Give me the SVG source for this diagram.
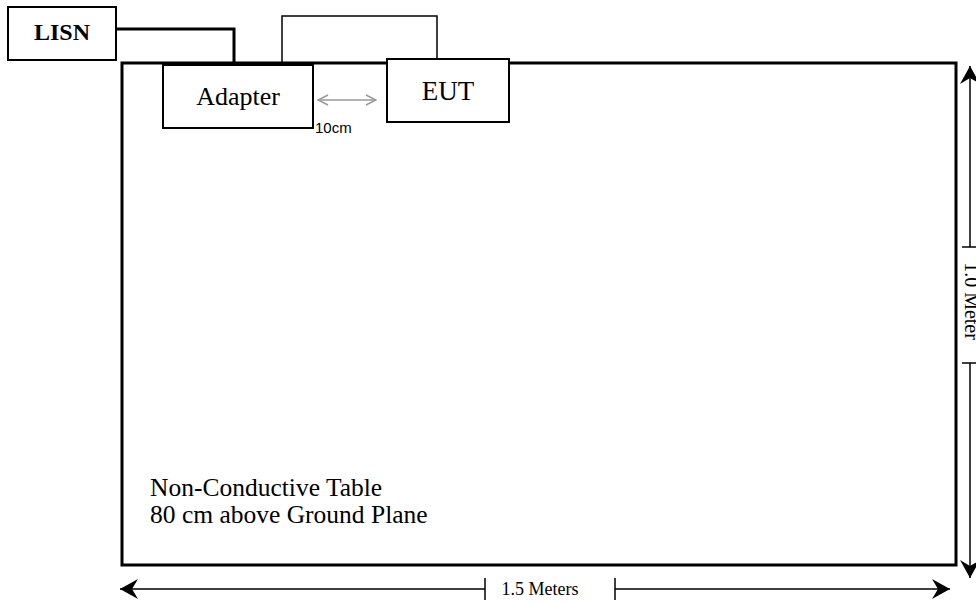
<svg xmlns="http://www.w3.org/2000/svg" width="976" height="603" viewBox="0 0 976 603">
<defs>
<style>
.box{fill:#fff;stroke:#000;stroke-width:2}
.tnr{font-family:"Liberation Serif","Times New Roman",serif;fill:#000}
.dim{stroke:#000;stroke-width:1.5;fill:none}
</style>
<marker id="blk" viewBox="0 0 20 20" refX="18" refY="10" markerWidth="20" markerHeight="20" markerUnits="userSpaceOnUse" orient="auto-start-reverse">
<path d="M0,0 L18,10 L0,20 L6,10 Z" fill="#000"/>
</marker>
<marker id="gry" viewBox="0 0 12 12" refX="11" refY="6" markerWidth="12" markerHeight="12" markerUnits="userSpaceOnUse" orient="auto-start-reverse">
<path d="M1,1 L11,6 L1,11" fill="none" stroke="#999" stroke-width="1.5"/>
</marker>
</defs>
<rect width="976" height="603" fill="#fff"/>
<g id="table">
<rect x="122" y="63" width="834" height="502" fill="none" stroke="#000" stroke-width="3"/>
<text class="tnr" x="150" y="496" font-size="25.5">Non-Conductive Table</text>
<text class="tnr" x="150" y="523" font-size="25.5">80 cm above Ground Plane</text>
</g>
<g id="connectors">
<polyline points="116,29 234,29 234,63" fill="none" stroke="#000" stroke-width="3"/>
<polyline points="282,62 282,16 437,16 437,59" fill="none" stroke="#000" stroke-width="1.5"/>
<line x1="318" y1="100" x2="376" y2="100" stroke="#999" stroke-width="1.5" marker-start="url(#gry)" marker-end="url(#gry)"/>
<text x="315" y="133" font-family="Liberation Sans, Arial, sans-serif" font-size="15">10cm</text>
</g>
<g id="lisn">
<rect class="box" x="8" y="7" width="108" height="53"/>
<text class="tnr" x="62" y="40" font-size="24" font-weight="bold" text-anchor="middle">LISN</text>
</g>
<g id="adapter">
<rect class="box" x="163" y="65" width="150" height="63"/>
<text class="tnr" x="238" y="105" font-size="26" text-anchor="middle">Adapter</text>
</g>
<g id="eut">
<rect class="box" x="387" y="59" width="122" height="63"/>
<text class="tnr" x="448" y="100" font-size="27" text-anchor="middle">EUT</text>
</g>
<g id="dimensions">
<line class="dim" x1="970" y1="247" x2="970" y2="66" marker-end="url(#blk)"/>
<line class="dim" x1="962" y1="247" x2="977" y2="247"/>
<line class="dim" x1="962" y1="363" x2="977" y2="363"/>
<line class="dim" x1="970" y1="363" x2="970" y2="578" marker-end="url(#blk)"/>
<text class="tnr" font-size="20" text-anchor="middle" transform="translate(965,301) rotate(90)">1.0 Meter</text>
<line class="dim" x1="485" y1="589" x2="120" y2="589" marker-end="url(#blk)"/>
<line class="dim" x1="485" y1="578" x2="485" y2="600"/>
<line class="dim" x1="615" y1="578" x2="615" y2="600"/>
<line class="dim" x1="615" y1="589" x2="950" y2="589" marker-end="url(#blk)"/>
<text class="tnr" x="540" y="595" font-size="18" text-anchor="middle">1.5 Meters</text>
</g>
</svg>
